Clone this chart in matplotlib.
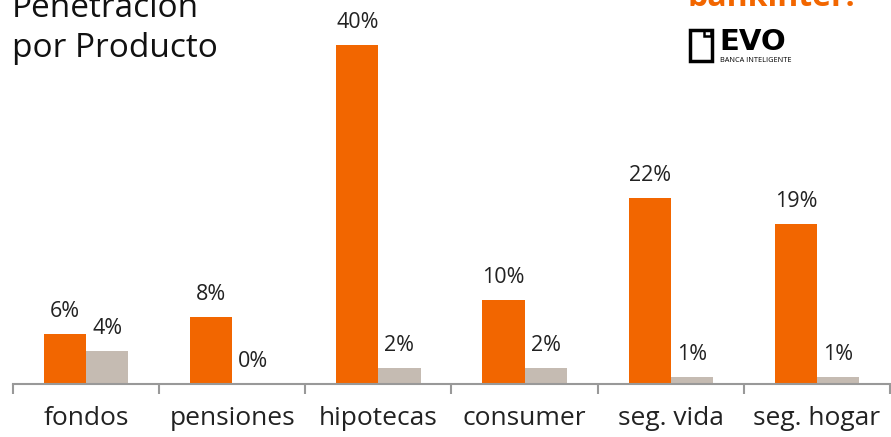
import numpy as np
import matplotlib.pyplot as plt
from matplotlib.patches import Rectangle

categories = ['fondos', 'pensiones', 'hipotecas', 'consumer', 'seg. vida', 'seg. hogar']
bankinter = [5.9, 7.9, 40.0, 9.9, 22.0, 18.9]
evo = [3.9, 0.0, 1.9, 1.9, 0.8, 0.8]

ORANGE = '#F26600'
GREY = '#C5BBB2'
TXT = '#222222'

plt.rcParams['font.family'] = ['Open Sans', 'DejaVu Sans']

fig = plt.figure(figsize=(8.91, 4.37), dpi=100)
ax = fig.add_axes([13 / 891, 1 - 384 / 437, 877 / 891, 384 / 437])

x = np.arange(len(categories))
w = 0.288
b1 = ax.bar(x - w / 2, bankinter, w, color=ORANGE)
b2 = ax.bar(x + w / 2, evo, w, color=GREY)

for bars, vals in ((b1, bankinter), (b2, evo)):
    for r, v in zip(bars, vals):
        ax.annotate('{:.0f}%'.format(v), (r.get_x() + r.get_width() / 2, r.get_height()),
                    xytext=(0, 12), textcoords='offset pixels', ha='center', va='bottom',
                    fontsize=15.5, color=TXT)

ax.set_xlim(-0.5, len(categories) - 0.5)
ax.set_ylim(0, 384 / 8.475)
for s in ['top', 'right', 'left']:
    ax.spines[s].set_visible(False)
ax.spines['bottom'].set_color('#999999')
ax.spines['bottom'].set_linewidth(1.5)
ax.set_yticks([])
ax.set_xticks(x)
ax.set_xticklabels(categories, fontsize=19, color=TXT)
ax.tick_params(axis='x', which='major', length=0, pad=16)
ax.set_xticks(np.arange(-0.5, len(categories)), minor=True)
ax.tick_params(axis='x', which='minor', length=7, width=1.5, color='#999999', direction='out')

# title (top line cut off by the figure edge, as in the source)
fig.text(12 / 891, 1 - 57 / 437, 'Penetración\npor Producto', fontsize=24, color='#111111',
         ha='left', va='baseline', linespacing=1.28)

# logos
fig.text(687 / 891, 1 - 6 / 437, 'bankinter.', fontsize=23, fontweight='bold', color=ORANGE,
         ha='left', va='baseline')
fig.add_artist(Rectangle((690 / 891, 1 - 61 / 437), 22 / 891, 31 / 437, transform=fig.transFigure,
                         fill=False, lw=2.5, ec='black'))
fig.add_artist(Rectangle((704 / 891, 1 - 36 / 437), 7 / 891, 6 / 437, transform=fig.transFigure,
                         fill=False, lw=1.8, ec='black'))
fig.text(719 / 891, 1 - 50 / 437, 'EVO', fontsize=21, fontweight='bold', color='black',
         ha='left', va='baseline', family='DejaVu Sans')
fig.text(720 / 891, 1 - 62 / 437, 'BANCA INTELIGENTE', fontsize=5.3, color='black',
         ha='left', va='baseline')

fig.savefig('out.png', dpi=100)
